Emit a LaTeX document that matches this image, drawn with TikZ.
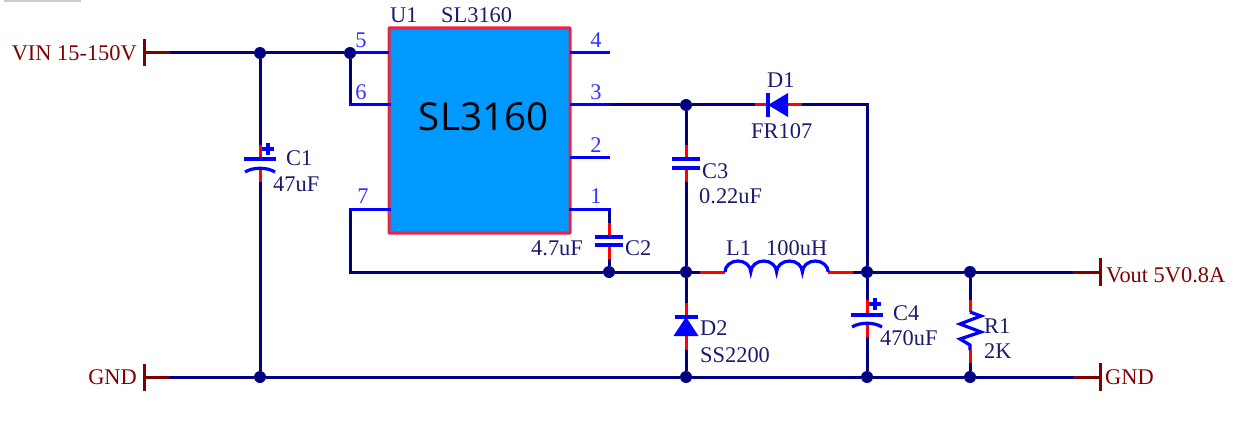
\documentclass[tikz,border=0pt]{standalone}
\usepackage{fontspec}
\usetikzlibrary{calc}
\setmainfont{Liberation Serif}
\newfontfamily\chipfont{Open Sans}
\definecolor{wirec}{HTML}{000080}
\definecolor{pinc}{HTML}{0000FF}
\definecolor{stubc}{HTML}{FF0000}
\definecolor{portc}{HTML}{800000}
\definecolor{chipc}{HTML}{0099FF}
\definecolor{chipedge}{HTML}{E8234A}
\definecolor{textc}{HTML}{1A1A6E}
\definecolor{numc}{HTML}{3333FF}
\tikzset{
  wire/.style={draw=wirec,line width=3pt},
  pinwire/.style={draw=pinc,line width=3pt},
  stub/.style={draw=stubc,line width=3pt},
  portwire/.style={draw=portc,line width=3pt},
  plate/.style={draw=pinc,line width=3.2pt},
  dot/.style={circle,fill=wirec,inner sep=0pt,minimum size=12pt},
  lbl/.style={inner sep=0pt,anchor=base west,text=textc,font=\fontsize{22.4}{22.4}\selectfont},
  num/.style={inner sep=0pt,anchor=base,text=numc,font=\fontsize{22.4}{22.4}\selectfont},
  port/.style={inner sep=0pt,text=portc,font=\fontsize{22.4}{22.4}\selectfont},
}
\begin{document}
\begin{tikzpicture}[x=1pt,y=-1pt]
\useasboundingbox (0,0) rectangle (1255,425);
\fill[gray!40] (4,0) rectangle (81,2);

% chip
\node (chip) [draw=chipedge,fill=chipc,line width=3pt,rounded corners=0.5pt,minimum width=181pt,minimum height=205pt,inner sep=0pt,outer sep=0pt,anchor=north west] at (389,28) {};
\node (chiptext) [inner sep=0pt,anchor=base,text=black,font=\fontsize{38.5}{38.5}\selectfont\chipfont] at (483.5,131) {SL3160};

% junctions
\node (jA) [dot] at (260,53) {};
\node (jB) [dot] at (350,53) {};
\node (jC) [dot] at (686,105) {};
\node (jD) [dot] at (609,272) {};
\node (jE) [dot] at (686,272) {};
\node (jF) [dot] at (867,272) {};
\node (jG) [dot] at (970,272) {};
\node (jH) [dot] at (260,377) {};
\node (jI) [dot] at (686,377) {};
\node (jJ) [dot] at (867,377) {};
\node (jK) [dot] at (970,377) {};

% coordinates: ports
\coordinate (pVin) at (145,53); \coordinate (pVinS) at (170,53);
\coordinate (pGndL) at (145,377); \coordinate (pGndLS) at (169,377);
\coordinate (pOut) at (1099,272); \coordinate (pOutS) at (1073,272);
\coordinate (pGndR) at (1099,377); \coordinate (pGndRS) at (1073,377);
% chip pins
\coordinate (p5) at (389,53); \coordinate (p6) at (389,105); \coordinate (p7) at (389,209);
\coordinate (c6) at (350,105); \coordinate (c7a) at (350,209); \coordinate (c7b) at (350,272);
\coordinate (p4a) at (570,53); \coordinate (p4b) at (610,53);
\coordinate (p3a) at (570,105); \coordinate (p3b) at (610,105);
\coordinate (p2a) at (570,157); \coordinate (p2b) at (610,157);
\coordinate (p1a) at (570,209); \coordinate (p1b) at (609,209);
% C1
\coordinate (c1a) at (260,145); \coordinate (c1b) at (260,159); \coordinate (c1c) at (260,168); \coordinate (c1d) at (260,182);
% C2
\coordinate (c2a) at (609,223); \coordinate (c2b) at (609,237); \coordinate (c2c) at (609,245); \coordinate (c2d) at (609,259);
% C3
\coordinate (c3a) at (686,145); \coordinate (c3b) at (686,159); \coordinate (c3c) at (686,168); \coordinate (c3d) at (686,182);
% C4
\coordinate (c4a) at (867,300); \coordinate (c4b) at (867,315); \coordinate (c4c) at (867,323); \coordinate (c4d) at (867,337);
% D1
\coordinate (d1a) at (755,105); \coordinate (d1b) at (768,105); \coordinate (d1c) at (788,105); \coordinate (d1d) at (802,105);
\coordinate (cTR) at (867,105);
% D2
\coordinate (d2a) at (686,303); \coordinate (d2b) at (686,317); \coordinate (d2c) at (686,336); \coordinate (d2d) at (686,350);
% L1
\coordinate (l1a) at (700,272); \coordinate (l1b) at (725,272); \coordinate (l1c) at (828,272); \coordinate (l1d) at (853,272);
% R1
\coordinate (r1a) at (970,300); \coordinate (r1b) at (970,312); \coordinate (r1c) at (970,350); \coordinate (r1d) at (970,363);

% main wires
\draw[wire] (pVinS) -- (jA);
\draw[wire] (jA) -- (jB);
\draw[wire] (jA) -- (c1a);
\draw[wire] (c1d) -- (jH);
\draw[wire] (jB) -- (c6);
\draw[wire] (c7a) -- (c7b) -- (jD);
\draw[wire] (jD) -- (jE);
\draw[wire] (p3b) -- (jC);
\draw[wire] (jC) -- (d1a);
\draw[wire] (d1d) -- (cTR) -- (jF);
\draw[wire] (jC) -- (c3a);
\draw[wire] (c3d) -- (jE);
\draw[wire] (c2d) -- (jD);
\draw[wire] (p1b) -- (c2a);
\draw[wire] (jE) -- (d2a);
\draw[wire] (d2d) -- (jI);
\draw[wire] (jE) -- (l1a);
\draw[wire] (l1d) -- (jF);
\draw[wire] (jF) -- (jG);
\draw[wire] (jG) -- (pOutS);
\draw[wire] (jF) -- (c4a);
\draw[wire] (c4d) -- (jJ);
\draw[wire] (jG) -- (r1a);
\draw[wire] (r1d) -- (jK);
\draw[wire] (pGndLS) -- (jH);
\draw[wire] (jH) -- (jI);
\draw[wire] (jI) -- (jJ);
\draw[wire] (jJ) -- (jK);
\draw[wire] (jK) -- (pGndRS);

% pins
\draw[pinwire] (jB) -- (p5);
\draw[pinwire,line cap=rect] (c6) -- (p6);
\draw[pinwire,line cap=rect] (c7a) -- (p7);
\draw[pinwire] (p4a) -- (p4b);
\draw[pinwire] (p3a) -- (p3b);
\draw[pinwire] (p2a) -- (p2b);
\draw[pinwire,line cap=rect] (p1a) -- (p1b);

% ports
\draw[portwire] (pVin) -- (pVinS);
\draw[portwire] (pGndL) -- (pGndLS);
\draw[portwire] (pOut) -- (pOutS);
\draw[portwire] (pGndR) -- (pGndRS);
\draw[portwire] ($(pVin)+(-1,-13.5)$) -- ($(pVin)+(-1,13.5)$);
\draw[portwire] ($(pGndL)+(-1,-13.5)$) -- ($(pGndL)+(-1,13.5)$);
\draw[portwire] ($(pOut)+(1,-14)$) -- ($(pOut)+(1,14)$);
\draw[portwire] ($(pGndR)+(1,-14)$) -- ($(pGndR)+(1,14)$);

% red pin stubs
\foreach \u/\v in {c1a/c1b,c1c/c1d,c2a/c2b,c2c/c2d,c3a/c3b,c3c/c3d,c4a/c4b,c4c/c4d,d1a/d1b,d1c/d1d,d2a/d2b,d2c/d2d,l1a/l1b,l1c/l1d,r1a/r1b,r1c/r1d}
  \draw[stub] (\u) -- (\v);

% non-polar capacitors
\draw[plate] ($(c2b)+(-14,0)$) -- ($(c2b)+(14,0)$);
\draw[plate] ($(c2c)+(-14,0)$) -- ($(c2c)+(14,0)$);
\draw[plate] ($(c3b)+(-14,0)$) -- ($(c3b)+(14,0)$);
\draw[plate] ($(c3c)+(-14,0)$) -- ($(c3c)+(14,0)$);

% polar capacitors
\draw[plate] ($(c1b)+(-16,0)$) -- ($(c1b)+(16,0)$);
\draw[plate] ($(c1c)+(-15,4)$) .. controls ($(c1c)+(-7,-1)$) and ($(c1c)+(7,-1)$) .. ($(c1c)+(15,4)$);
\draw[plate] (262,149) -- (274,149) (268,143) -- (268,155);
\draw[plate] ($(c4b)+(-16,0)$) -- ($(c4b)+(16,0)$);
\draw[plate] ($(c4c)+(-15,4)$) .. controls ($(c4c)+(-7,-1)$) and ($(c4c)+(7,-1)$) .. ($(c4c)+(15,4)$);
\draw[plate] (869,304) -- (881,304) (875,298) -- (875,310);

% diodes
\fill[pinc] (d1b) -- ($(d1c)+(0,-12)$) -- ($(d1c)+(0,12)$) -- cycle;
\draw[plate] ($(d1b)+(0,-12)$) -- ($(d1b)+(0,12)$);
\fill[pinc] (d2b) -- ($(d2c)+(-12.5,0)$) -- ($(d2c)+(12.5,0)$) -- cycle;
\draw[plate] ($(d2b)+(-11.5,0)$) -- ($(d2b)+(11.5,0)$);

% inductor
\draw[plate] (l1b) arc[start angle=180,end angle=0,x radius=12.9pt,y radius=11pt]
  arc[start angle=180,end angle=0,x radius=12.9pt,y radius=11pt]
  arc[start angle=180,end angle=0,x radius=12.9pt,y radius=11pt]
  arc[start angle=180,end angle=0,x radius=12.9pt,y radius=11pt];

% resistor
\draw[plate,line join=miter] (r1b) -- (981,316) -- (960,324) -- (981,332) -- (960,339) -- (970,345) -- (r1c);

% labels
\node (vin) [port,anchor=base east] at (137,61) {VIN 15-150V};
\node (gndl) [port,anchor=base east] at (137,384) {GND};
\node (vout) [port,anchor=base west] at (1106,282) {Vout 5V0.8A};
\node (gndr) [port,anchor=base west] at (1105,384) {GND};
\node (u1) [lbl] at (390,23) {U1};
\node (u1v) [lbl] at (441,23) {SL3160};
\node (n5) [num] at (361,48) {5};
\node (n6) [num] at (361,100) {6};
\node (n7) [num] at (363,203) {7};
\node (n4) [num] at (596,48) {4};
\node (n3) [num] at (596,100) {3};
\node (n2) [num] at (596,152) {2};
\node (n1) [num] at (596,203) {1};
\node (tC1) [lbl] at (286,165) {C1};
\node (vC1) [lbl] at (273,191) {47uF};
\node (tC2) [lbl] at (625,255) {C2};
\node (vC2) [lbl] at (531,255) {4.7uF};
\node (tD1) [lbl] at (767,88) {D1};
\node (vD1) [lbl] at (751,139) {FR107};
\node (tC3) [lbl] at (702,178) {C3};
\node (vC3) [lbl] at (699,203) {0.22uF};
\node (tL1) [lbl] at (726,255) {L1};
\node (vL1) [lbl] at (766,255) {100uH};
\node (tD2) [lbl] at (700,335) {D2};
\node (vD2) [lbl] at (700,362) {SS2200};
\node (tC4) [lbl] at (893,320) {C4};
\node (vC4) [lbl] at (880,345) {470uF};
\node (tR1) [lbl] at (984,333) {R1};
\node (vR1) [lbl] at (984,358) {2K};
\end{tikzpicture}
\end{document}
